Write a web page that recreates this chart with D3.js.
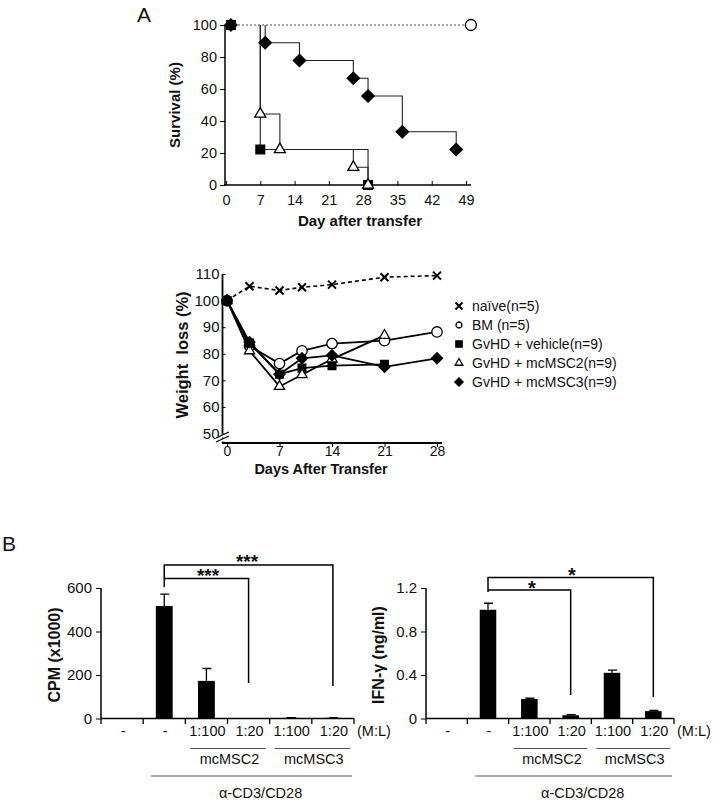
<!DOCTYPE html>
<html><head><meta charset="utf-8">
<script src="https://cdn.jsdelivr.net/npm/d3@7"></script>
<style>body{margin:0;background:#fff} text{font-family:"Liberation Sans",Arial,sans-serif;fill:#111}</style>
</head><body><svg id="c" width="718" height="803"></svg>
<script>
// ---------- DATA ----------
const survXTicks = [0,7,14,21,28,35,42,49];
const survYTicks = [0,20,40,60,80,100];
const survVehicleDays = [1,7,29];
const survVehicleVals = [100,22.2,0];
const survMSC2Days = [1,7,11,26,29];
const survMSC2Vals = [100,44.4,22.2,11.1,0];
const survMSC3Days = [1,8,15,26,29,36,47];
const survMSC3Vals = [100,88.9,77.8,66.7,55.6,33.3,22.2];
const survBMDays = [50];
const survBMVals = [100];

const wtDays = [0,3,7,10,14,21,28];
const wtNaive = [100,105.4,103.8,105.0,106.0,108.8,109.4];
const wtBM = [100,83,76.3,81.1,83.8,84.9,88.2];
const wtVehicle = [100,84,72.3,74.6,75.5,76.0];
const wtMSC2 = [100,81.1,67.7,72.1,78.0,86.9];
const wtMSC3 = [100,84.4,72.3,78.3,79.4,75.1,78.3];
const wtXTicks = [0,7,14,21,28];
const wtYTicks = [50,60,70,80,90,100,110];
const legendLabels = ["naïve(n=5)","BM (n=5)","GvHD + vehicle(n=9)","GvHD + mcMSC2(n=9)","GvHD + mcMSC3(n=9)"];

const barCats = ["-","-","1:100","1:20","1:100","1:20"];
const cpmVals = [2,517,173,0.5,3,3];
const cpmErr = [0,55,57,0,1,1];
const cpmTicks = [0,200,400,600];
const ifnVals = [0,1.0,0.18,0.03,0.42,0.068];
const ifnErr = [0,0.06,0.006,0.005,0.025,0.006];
const ifnTicks = [0,0.4,0.8,1.2];

// ---------- DRAW ----------
const svg = d3.select("#c");

function sym(g, type, x, y, size, fill, rot){
  g.append("path").attr("d", d3.symbol().type(type).size(size)())
   .attr("transform", `translate(${x},${y})` + (rot?` rotate(${rot})`:""))
   .attr("fill", fill).attr("stroke", "#000").attr("stroke-width", 1.3);
}
function cross(g, x, y, r){
  g.append("path").attr("d", `M${x-r},${y-r}L${x+r},${y+r}M${x-r},${y+r}L${x+r},${y-r}`)
   .attr("stroke","#000").attr("stroke-width",2).attr("fill","none");
}

// ===== Panel A: survival =====
svg.append("text").attr("x",137).attr("y",22).attr("font-size",21).text("A");
const sx = d3.scaleLinear().domain([0,49]).range([226,466]);
const sy = d3.scaleLinear().domain([0,100]).range([185,25]);
const gS = svg.append("g");
gS.append("g").attr("transform","translate(0,185)")
  .call(d3.axisBottom(sx).tickValues(survXTicks).tickSize(-4).tickPadding(8))
  .call(g=>g.select(".domain").attr("d","M224,0H471").attr("stroke-width",1.5))
  .call(g=>g.selectAll("text").attr("font-size",14.5).attr("dy","0.85em"));
gS.append("g").attr("transform","translate(225,0)")
  .call(d3.axisLeft(sy).tickValues(survYTicks).tickSize(5).tickPadding(3))
  .call(g=>g.select(".domain").attr("d","M0,25V185").attr("stroke-width",1.5))
  .call(g=>g.selectAll("text").attr("font-size",14.5));
gS.append("text").attr("transform","translate(180,105) rotate(-90)").attr("text-anchor","middle")
  .attr("font-size",15).attr("font-weight","bold").text("Survival (%)");
gS.append("text").attr("x",360).attr("y",226).attr("text-anchor","middle")
  .attr("font-size",15).attr("font-weight","bold").text("Day after transfer");
gS.append("line").attr("x1",sx(0)).attr("x2",sx(survBMDays[0])).attr("y1",sy(100)).attr("y2",sy(100))
  .attr("stroke","#444").attr("stroke-dasharray","2,2").attr("stroke-width",1);
function stepPath(days, vals){
  let p = `M${sx(days[1])},${sy(vals[0])}`;
  for(let i=1;i<days.length;i++){
    p += `V${sy(vals[i])}`;
    if(i<days.length-1) p += `H${sx(days[i+1])}`;
  }
  return p;
}
[[survMSC3Days,survMSC3Vals],[survVehicleDays,survVehicleVals],[survMSC2Days,survMSC2Vals]].forEach(([d,v])=>{
  gS.append("path").attr("d",stepPath(d,v)).attr("fill","none").attr("stroke","#222").attr("stroke-width",1.1);
});
survMSC3Days.forEach((d,i)=>sym(gS,d3.symbolSquare,sx(d),sy(survMSC3Vals[i]),76,"#000",45));
survVehicleDays.forEach((d,i)=>sym(gS,d3.symbolSquare,sx(d),sy(survVehicleVals[i]),76,"#000"));
survMSC2Days.forEach((d,i)=>{ if(i>0) sym(gS,d3.symbolTriangle,sx(d),sy(survMSC2Vals[i]),52,"#fff"); });
survBMDays.forEach((d,i)=>sym(gS,d3.symbolCircle,sx(d),sy(survBMVals[i]),95,"#fff"));

// ===== Weight loss =====
const wx = d3.scaleLinear().domain([0,28]).range([227,437]);
const wy = d3.scaleLinear().domain([50,110]).range([433.5,274]);
const gW = svg.append("g");
const axY = 443;
gW.append("g").attr("transform",`translate(0,${axY})`)
  .call(d3.axisBottom(wx).tickValues(wtXTicks).tickSize(4).tickPadding(1))
  .call(g=>g.select(".domain").attr("d","M222,0H442").attr("stroke-width",1.8))
  .call(g=>g.selectAll("text").attr("font-size",14).attr("dy","0.55em"));
gW.append("g").attr("transform","translate(222.5,0)")
  .call(d3.axisLeft(wy).tickValues(wtYTicks).tickSize(-3).tickPadding(3))
  .call(g=>g.select(".domain").attr("d",`M0,274V${axY}`).attr("stroke-width",1.8))
  .call(g=>g.selectAll("text").attr("font-size",15));
gW.append("path").attr("d","M216,439L229,433M216,443L229,437").attr("stroke","#fff").attr("stroke-width",3);
gW.append("path").attr("d","M216,438L229,432M216,442L229,436").attr("stroke","#000").attr("stroke-width",1.3);
gW.append("text").attr("transform","translate(188,355) rotate(-90)").attr("text-anchor","middle")
  .attr("font-size",16.5).attr("font-weight","bold").attr("xml:space","preserve").text("Weight  loss (%)");
gW.append("text").attr("x",321).attr("y",474).attr("text-anchor","middle")
  .attr("font-size",14.5).attr("font-weight","bold").text("Days After Transfer");
const wline = (vals)=>d3.line().x((d,i)=>wx(wtDays[i])).y(d=>wy(d))(vals);
gW.append("path").attr("d",wline(wtNaive)).attr("fill","none").attr("stroke","#000").attr("stroke-width",1.6).attr("stroke-dasharray","4,3");
wtNaive.forEach((v,i)=>cross(gW,wx(wtDays[i]),wy(v),4));
const series = [
  [wtBM, (x,y)=>sym(gW,d3.symbolCircle,x,y,85,"#fff")],
  [wtVehicle, (x,y)=>sym(gW,d3.symbolSquare,x,y,60,"#000")],
  [wtMSC2, (x,y)=>sym(gW,d3.symbolTriangle,x,y,45,"#fff")],
  [wtMSC3, (x,y)=>sym(gW,d3.symbolSquare,x,y,60,"#000",45)]
];
series.forEach(([vals,mk])=>{
  gW.append("path").attr("d",wline(vals)).attr("fill","none").attr("stroke","#000").attr("stroke-width",1.8);
  vals.forEach((v,i)=>mk(wx(wtDays[i]),wy(v)));
});
const legY = [306,325,344,363,382];
const lx = 459;
cross(gW,lx,legY[0],3.5);
sym(gW,d3.symbolCircle,lx,legY[1],28,"#fff");
sym(gW,d3.symbolSquare,lx,legY[2],40,"#000");
sym(gW,d3.symbolTriangle,lx,legY[3],26,"#fff");
sym(gW,d3.symbolSquare,lx,legY[4],34,"#000",45);
legendLabels.forEach((t,i)=>gW.append("text").attr("x",472).attr("y",legY[i]+5).attr("font-size",14).text(t));

// ===== Panel B =====
svg.append("text").attr("x",2).attr("y",551).attr("font-size",21).text("B");

function barChart(o){
  const g = svg.append("g");
  const x = d3.scaleBand().domain(d3.range(barCats.length)).range([o.x0,o.x1]).paddingInner(0.6).paddingOuter(0.3);
  const y = d3.scaleLinear().domain([0,o.max]).range([718.5,588]);
  const step = x.step(), bw = x.bandwidth();
  const cx = i => x(i)+bw/2;
  o.vals.forEach((v,i)=>{
    g.append("rect").attr("x",x(i)).attr("width",bw).attr("y",y(v)).attr("height",718.5-y(v)).attr("fill","#000");
    if(o.err[i]>0){
      const top = y(v+o.err[i]);
      g.append("path").attr("d",`M${cx(i)},${y(v)}V${top}M${cx(i)-4},${top}H${cx(i)+5}`).attr("stroke","#000").attr("stroke-width",1.3);
    }
  });
  g.append("g").attr("transform",`translate(${o.x0},0)`)
    .call(d3.axisLeft(y).tickValues(o.ticks).tickSize(5).tickPadding(4).tickFormat(o.fmt))
    .call(gg=>gg.select(".domain").attr("d","M0,588V718.5").attr("stroke-width",1.5))
    .call(gg=>gg.selectAll("text").attr("font-size",15));
  g.append("line").attr("x1",o.x0).attr("x2",o.x1).attr("y1",718.5).attr("y2",718.5).attr("stroke","#000").attr("stroke-width",1.5);
  for(let i=0;i<=barCats.length;i++){
    const tx = o.x0 + i*step;
    g.append("line").attr("x1",tx).attr("x2",tx).attr("y1",718.5).attr("y2",724).attr("stroke","#000").attr("stroke-width",1.3);
  }
  barCats.forEach((c,i)=>g.append("text").attr("x",cx(i)+1).attr("y",736).attr("text-anchor","middle").attr("font-size",14.5).text(c));
  g.append("text").attr("x",o.x1+3).attr("y",736).attr("font-size",14.5).text("(M:L)");
  const grp = (a,b,label)=>{
    g.append("line").attr("x1",o.x0+a*step+5).attr("x2",o.x0+b*step-4).attr("y1",748.5).attr("y2",748.5).attr("stroke","#555").attr("stroke-width",1.2);
    g.append("text").attr("x",o.x0+(a+b)/2*step+2).attr("y",764).attr("text-anchor","middle").attr("font-size",14.5).text(label);
  };
  grp(2,4,"mcMSC2"); grp(4,6,"mcMSC3");
  g.append("line").attr("x1",o.x0+1*step+8).attr("x2",o.x1-2).attr("y1",776).attr("y2",776).attr("stroke","#555").attr("stroke-width",1.2);
  g.append("text").attr("x",(o.x0+1*step+o.x1)/2+12).attr("y",798).attr("text-anchor","middle").attr("font-size",14.5).text("α-CD3/CD28");
  g.append("text").attr("transform",`translate(${o.tx},655) rotate(-90)`).attr("text-anchor","middle")
    .attr("font-size",16).attr("font-weight","bold").text(o.title);
  o.brackets.forEach(b=>{
    const x1 = cx(1), x2 = cx(b.to);
    g.append("path").attr("d",`M${x1},${b.legL}V${b.top}H${x2}V${b.legR}`).attr("fill","none").attr("stroke","#000").attr("stroke-width",1.5);
    g.append("text").attr("x",b.sx).attr("y",b.sy).attr("text-anchor","middle").attr("font-size",b.fs).attr("font-weight","bold").text(b.stars);
  });
}
barChart({x0:101,x1:354,max:600,vals:cpmVals,err:cpmErr,ticks:cpmTicks,fmt:d3.format("d"),
  title:"CPM (x1000)",tx:60,
  brackets:[{to:5,top:565,legL:587,legR:686,stars:"***",sx:247,sy:568,fs:19},
            {to:3,top:578.5,legL:578.5,legR:683,stars:"***",sx:208,sy:582,fs:19}]});
barChart({x0:426,x1:674,max:1.2,vals:ifnVals,err:ifnErr,ticks:ifnTicks,fmt:d=>d===0?"0":d3.format(".1f")(d),
  title:"IFN-γ (ng/ml)",tx:384,
  brackets:[{to:5,top:577.5,legL:592,legR:697,stars:"*",sx:572,sy:582,fs:20},
            {to:3,top:590,legL:590,legR:695,stars:"*",sx:532,sy:595,fs:20}]});
</script></body></html>
